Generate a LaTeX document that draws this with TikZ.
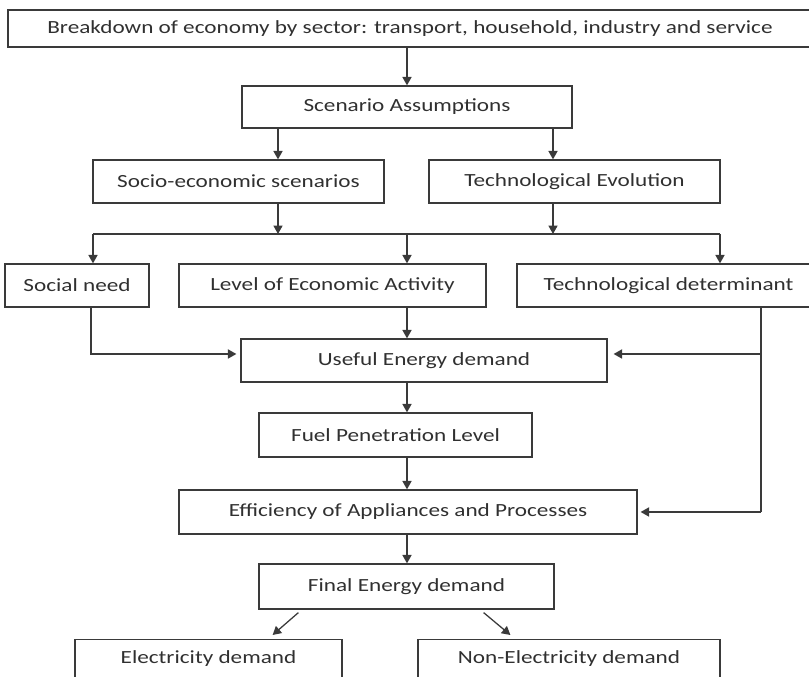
\documentclass[tikz,border=0pt]{standalone}
\usepackage{fontspec}
\setmainfont{Carlito}[FakeStretch=1.25]
\usetikzlibrary{arrows.meta,calc}
\definecolor{ink}{HTML}{303030}
\definecolor{edge}{HTML}{3A3A3A}

\begin{document}
\begin{tikzpicture}[x=1cm,y=1cm,font=\fontsize{13.2}{16}\selectfont,>={Triangle[length=6pt,width=6.5pt]},
  box/.style={draw=edge,line width=0.9pt,text=ink,inner sep=0pt},
  link/.style={->,draw=edge,line width=0.9pt},
  cutbox/.style={box,anchor=north,text height=0.35cm,text depth=0.7cm,inner ysep=0.25cm}]
\clip (0,0) rectangle (20.225,16.925);
% top of the chain
\node[box,minimum width=20.1cm,minimum height=0.925cm] (brk) at (10.25,16.2125) {Breakdown of economy by sector: transport, household, industry and service};
\node[box,minimum width=8.25cm,minimum height=1.05cm] (sce) at (10.175,14.25) {Scenario Assumptions};
\node[box,minimum width=7.275cm,minimum height=1.075cm] (soc) at (5.9625,12.3875) {Socio-economic scenarios};
\node[box,minimum width=7.275cm,minimum height=1.075cm] (tev) at (14.3625,12.3875) {Technological Evolution};
% the bar and its three drivers
\coordinate (xl) at (6.95,0);
\coordinate (xr) at (13.825,0);
\coordinate (xm) at (10.175,0);
\coordinate (barl) at (2.325,11.075);
\coordinate (barr) at (18.0,11.075);
\node[box,minimum width=3.6cm,minimum height=1.075cm] (need) at (1.925,9.7875) {Social need};
\node[box,minimum width=7.675cm,minimum height=1.075cm] (lea) at (8.3125,9.7875) {Level of Economic Activity};
\node[box,minimum width=7.575cm,minimum height=1.075cm] (tdet) at (16.7125,9.7875) {Technological determinant};
% energy chain
\node[box,minimum width=9.15cm,minimum height=1.075cm] (use) at (10.6,7.9125) {Useful Energy demand};
\node[box,minimum width=6.825cm,minimum height=1.1cm] (fuel) at (9.8875,6.05) {Fuel Penetration Level};
\node[box,minimum width=11.45cm,minimum height=1.1cm] (eff) at (10.2,4.125) {Efficiency of Appliances and Processes};
\node[box,minimum width=7.375cm,minimum height=1.125cm] (fin) at (10.1625,2.2625) {Final Energy demand};
\node[cutbox,minimum width=6.675cm] (ele) at (5.2125,0.95) {Electricity demand};
\node[cutbox,minimum width=7.55cm] (nel) at (14.225,0.95) {Non-Electricity demand};
\coordinate (xt) at (19.025,0);
% links
\draw[link] (brk.south -| xm) -- (sce.north);
\draw[link] (sce.south -| xl) -- (soc.north -| xl);
\draw[link] (sce.south -| xr) -- (tev.north -| xr);
\draw[link] (soc.south -| xl) -- (xl |- barl);
\draw[link] (tev.south -| xr) -- (xr |- barl);
\draw[draw=edge,line width=0.9pt] (barl) -- (barr);
\draw[link] (barl) -- (need.north -| barl);
\draw[link] (xm |- barl) -- (lea.north -| xm);
\draw[link] (barr) -- (tdet.north -| barr);
\draw[link,shorten >=0.1cm] (need.south -| 2.275,0) |- ([yshift=0.1625cm]use.west);
\draw[link] (lea.south -| xm) -- (use.north -| xm);
\draw[draw=edge,line width=0.9pt] (tdet.south -| xt) -- (xt |- eff.east);
\draw[link,shorten >=0.15cm] (xt |- use.west) ++(0,0.1625) -- ([yshift=0.1625cm]use.east);
\draw[link,shorten >=0.075cm] (xt |- eff.east) -- (eff.east);
\draw[link] (use.south -| xm) -- (fuel.north -| xm);
\draw[link] (fuel.south -| xm) -- (eff.north -| xm);
\draw[link] (eff.south -| xm) -- (fin.north -| xm);
\draw[link] ($(fin.south west)+(1.0,-0.075)$) -- ($(ele.north east)+(-1.75,0.1)$);
\draw[link] ($(fin.south east)+(-1.775,-0.075)$) -- ($(nel.north west)+(2.325,0.1)$);
\end{tikzpicture}
\end{document}
